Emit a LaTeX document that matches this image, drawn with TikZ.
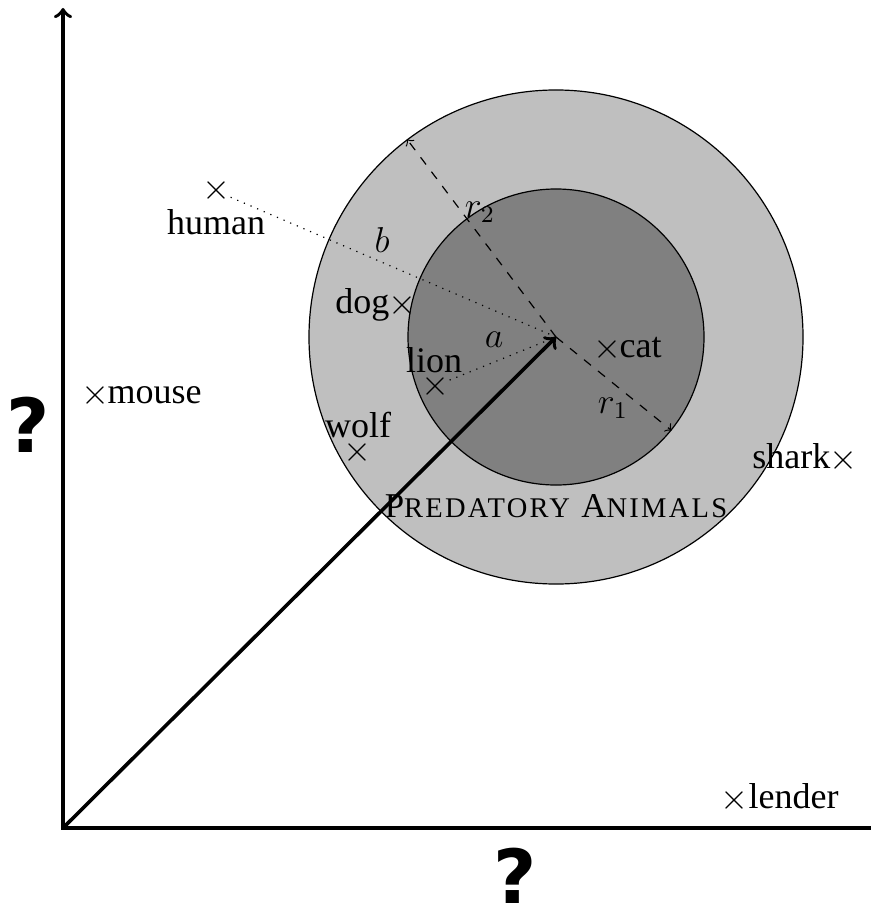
\documentclass[tikz,border=0pt]{standalone}
\usepackage{fontspec}
\setmainfont{Liberation Serif}
\newfontfamily\qfont{DejaVu Sans}
\newfontfamily\scfont[LetterSpace=8]{Liberation Serif}
\newcommand\fakesc[1]{{\fontsize{9.5}{11}\selectfont #1}}
\begin{document}
\begin{tikzpicture}[x=0.33333pt,y=-0.33333pt,
  font=\fontsize{12}{14.4}\selectfont,
  axis/.style={line width=1.2pt},
  mk/.style={inner sep=0pt},
  lbl/.style={inner sep=0pt},
  rline/.style={dashed, line width=0.4pt, ->},
  qmark/.style={inner sep=0pt, font=\qfont\bfseries\fontsize{24.88}{30}\selectfont}]
\useasboundingbox (0,0) rectangle (871,908);
\coordinate (O) at (63,828);
\coordinate (ytop) at (63,8);
\coordinate (xend) at (885,828);
% circles
\node[circle, draw, line width=0.4pt, fill=black!25, minimum size=164.67pt, inner sep=0pt] (outer) at (556,337) {};
\node[circle, draw, line width=0.4pt, fill=black!50, minimum size=98.67pt, inner sep=0pt] (inner) at (556,337) {};
% radii
\draw[rline] (outer.center) -- (outer.127);
\draw[rline] (inner.center) -- (inner.-39);
\node[lbl] (r2) at (480,212) {$r_2$};
\node[lbl] (r1) at (613,408) {$r_1$};
% marks
\node[mk] (hm) at (216,191) {$\times$};
\node[lbl, anchor=base] (human) at (216,235) {human};
\node[mk] (dm) at (402,305) {$\times$};
\node[lbl, anchor=base east] (dog) at (390,313) {dog};
\node[mk] (lm) at (435,386) {$\times$};
\node[lbl, anchor=base] (lion) at (434,372) {lion};
\node[mk] (wm) at (357,452) {$\times$};
\node[lbl, anchor=base] (wolf) at (358,437) {wolf};
\node[mk] (cm) at (607,349) {$\times$};
\node[lbl, anchor=base west] (cat) at (619,357) {cat};
\node[mk] (mm) at (95,395) {$\times$};
\node[lbl, anchor=base west] (mouse) at (107,403) {mouse};
\node[mk] (sm) at (843,460) {$\times$};
\node[lbl, anchor=base east] (shark) at (831,468) {shark};
\node[mk] (lem) at (734,800) {$\times$};
\node[lbl, anchor=base west] (lender) at (748,808) {lender};
% distances
\draw[dotted, line width=0.4pt] (hm) -- (inner.center);
\draw[dotted, line width=0.4pt] (lm) -- (inner.center);
\node[lbl] (b) at (382,240) {$b$};
\node[lbl] (a) at (494,340) {$a$};
% vector
\draw[->, line width=1.2pt] (O) -- (inner.center);
% axes
\draw[axis, <-] (ytop) -- (O) -- (xend);
% class label
\node[lbl, anchor=base] (pred) at (556,517) {\scfont\fontsize{11.6}{13}\selectfont P\fakesc{REDATORY} A\fakesc{NIMALS}};
% axis labels
\node[qmark] (qy) at (28,425) {?};
\node[qmark] (qx) at (515,876) {?};
\end{tikzpicture}
\end{document}
